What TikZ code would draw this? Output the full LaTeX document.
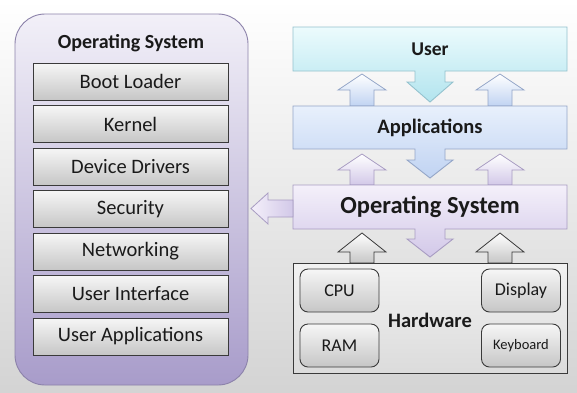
\documentclass[tikz,border=0pt]{standalone}
\usepackage{fontspec}
\setmainfont{Carlito}
\definecolor{ink}{HTML}{1A1A1A}
\definecolor{panelTop}{HTML}{F2F0F8}
\definecolor{panelBot}{HTML}{A89CCA}
\definecolor{panelEdge}{HTML}{8C82AA}
\definecolor{grayTop}{HTML}{F6F6F6}
\definecolor{grayBot}{HTML}{C6C6C6}
\definecolor{grayEdge}{HTML}{3A3A3A}
\definecolor{userTop}{HTML}{ECFBFD}
\definecolor{userBot}{HTML}{B2E4EE}
\definecolor{userEdge}{HTML}{94C2CE}
\definecolor{appTop}{HTML}{E8F0FC}
\definecolor{appBot}{HTML}{C0D3F2}
\definecolor{appEdge}{HTML}{94A6C8}
\definecolor{osTop}{HTML}{F4F0FA}
\definecolor{osBot}{HTML}{D2C8E8}
\definecolor{osEdge}{HTML}{A89CC2}
\begin{document}
\begin{tikzpicture}[x=1pt,y=-1pt,
  txt/.style={text=ink, inner sep=0pt},
  layer/.style={draw=grayEdge, line width=0.9pt, top color=grayTop, bottom color=grayBot,
    minimum width=195pt, minimum height=37pt, inner sep=0pt, text=ink,
    font=\fontsize{20.5}{23}\selectfont},
  hwpart/.style={draw=grayEdge, line width=0.9pt, rounded corners=8pt, top color=grayTop,
    bottom color=grayBot, minimum width=79pt, minimum height=43pt, inner sep=0pt, text=ink,
    font=\fontsize{18}{20}\selectfont},
  upblue/.style={draw=appEdge, line width=0.8pt, top color=white, bottom color=appBot},
  uppurple/.style={draw=osEdge, line width=0.8pt, top color=white, bottom color=osBot},
  upgray/.style={draw=grayEdge, line width=0.8pt, top color=white, bottom color=grayBot},
]
\useasboundingbox (0,0) rectangle (577,392);

% page background
\shade[top color=white, middle color=white, bottom color=black!17] (0,0) rectangle (577,392);

% ---------- left panel: parts of the operating system ----------
\shade[draw=panelEdge, line width=0.9pt, rounded corners=30pt,
  top color=panelTop, bottom color=panelBot] (15,14) rectangle (248,385);
\node[txt, font=\bfseries\fontsize{20}{23}\selectfont] (ostitle) at (131,43) {Operating System};
\node[layer] (boot) at (130.5,81.5)  {Boot Loader};
\node[layer] (kern) at (130.5,124)   {Kernel};
\node[layer] (drv)  at (130.5,166.5) {Device Drivers};
\node[layer] (sec)  at (130.5,209)   {Security};
\node[layer] (net)  at (130.5,251.5) {Networking};
\node[layer] (ui)   at (130.5,294)   {User Interface};
\node[layer] (uapp) at (130.5,336.5) {User Applications};

% block arrow pointing up: centre x, tip y, head base y, foot y, style
\newcommand\blockup[5]{%
  \shade[#5] (#1-12,#4) -- (#1-12,#3) -- (#1-24,#3) -- (#1,#2) -- (#1+24,#3)
    -- (#1+12,#3) -- (#1+12,#4) -- cycle;}

% ---------- right stack ----------
% user layer with its downward arrow
\shade[draw=userEdge, line width=0.9pt, top color=userTop, bottom color=userBot]
  (293,27) -- (567,27) -- (567,71) -- (445,71) -- (445,82) -- (453,82) -- (430,102)
  -- (407,82) -- (415,82) -- (415,71) -- (293,71) -- cycle;
\node[txt, font=\bfseries\fontsize{19.5}{22}\selectfont] (user) at (430,49) {User};

\blockup{362}{74}{90}{106}{upblue}
\blockup{500}{74}{90}{106}{upblue}

% applications layer
\shade[draw=appEdge, line width=0.9pt, top color=appTop, bottom color=appBot]
  (293,106) -- (567,106) -- (567,149) -- (445,149) -- (445,160) -- (453,160) -- (430,178)
  -- (407,160) -- (415,160) -- (415,149) -- (293,149) -- cycle;
\node[txt, font=\bfseries\fontsize{20.5}{23}\selectfont] (apps) at (430,128) {Applications};

\blockup{362}{154}{170}{185}{uppurple}
\blockup{500}{154}{170}{185}{uppurple}

% operating system layer
\shade[draw=osEdge, line width=0.9pt, top color=osTop, bottom color=osBot]
  (293,185) -- (567,185) -- (567,229) -- (445,229) -- (445,239) -- (453,239) -- (430,257)
  -- (407,239) -- (415,239) -- (415,229) -- (293,229) -- cycle;
\node[txt, font=\bfseries\fontsize{24.5}{28}\selectfont] (os) at (430,207) {Operating System};

% arrow from the OS layer to the detail panel
\shade[draw=osEdge, line width=0.8pt, left color=osTop, right color=osBot]
  (293,200) -- (268,200) -- (268,193) -- (251,208.5) -- (268,224) -- (268,217) -- (293,217) -- cycle;

\blockup{362}{233}{252}{263}{upgray}
\blockup{500}{233}{252}{263}{upgray}

% hardware layer
\shade[draw=grayEdge, line width=0.9pt, top color=black!5, bottom color=black!14]
  (293,263) rectangle (567,373);
\node[txt, font=\bfseries\fontsize{20.5}{24}\selectfont] (hw) at (430,320) {Hardware};
\node[hwpart] (cpu)  at (339.5,290.5) {CPU};
\node[hwpart] (ram)  at (339.5,345.5) {RAM};
\node[hwpart] (disp) at (521,290.5)   {Display};
\node[hwpart, font=\fontsize{14.5}{17}\selectfont] (kbd) at (521,345.5) {Keyboard};
\end{tikzpicture}
\end{document}
